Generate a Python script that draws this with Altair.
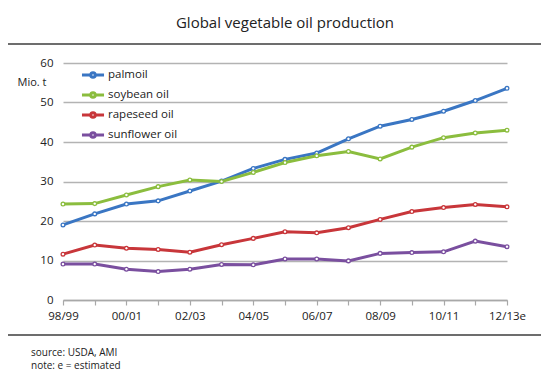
import altair as alt
import pandas as pd

seasons = ["98/99", "99/00", "00/01", "01/02", "02/03", "03/04", "04/05", "05/06",
           "06/07", "07/08", "08/09", "09/10", "10/11", "11/12", "12/13e"]
shown_labels = ["98/99", "00/01", "02/03", "04/05", "06/07", "08/09", "10/11", "12/13e"]

palmoil = [19.0, 21.8, 24.3, 25.1, 27.6, 30.1, 33.3, 35.6, 37.2, 40.8, 44.0, 45.7, 47.8, 50.5, 53.6]
soybean = [24.3, 24.4, 26.6, 28.7, 30.4, 30.0, 32.3, 34.8, 36.5, 37.6, 35.7, 38.7, 41.1, 42.3, 43.0]
rapeseed = [11.6, 13.9, 13.1, 12.8, 12.1, 14.0, 15.6, 17.3, 17.0, 18.3, 20.4, 22.4, 23.4, 24.2, 23.6]
sunflower = [9.1, 9.1, 7.8, 7.2, 7.8, 9.0, 8.9, 10.4, 10.4, 9.9, 11.8, 12.0, 12.2, 14.9, 13.5]

series_names = ["palmoil", "soybean oil", "rapeseed oil", "sunflower oil"]
series_colors = ["#3a76c3", "#8bbd3e", "#c8363a", "#7a4f9f"]
series_values = [palmoil, soybean, rapeseed, sunflower]

footer_lines = ["source: USDA, AMI", "note: e = estimated"]

rows = []
for name, vals in zip(series_names, series_values):
    for s, v in zip(seasons, vals):
        rows.append({"season": s, "value": v, "oil": name})
df = pd.DataFrame(rows)

FONT = "Open Sans"
label_list = ",".join("'" + l + "'" for l in shown_labels)
label_expr = f"indexof([{label_list}], datum.value) >= 0 ? datum.value : ''"

legend_symbol = ("M-1.16,0L-0.28,0M0.28,0L1.16,0"
                 "M-0.24,0A0.24,0.24 0 1,1 0.24,0A0.24,0.24 0 1,1 -0.24,0Z")

lines = alt.Chart(df).mark_line(
    strokeWidth=3,
    point=alt.OverlayMarkDef(filled=False, fill="white", fillOpacity=1, size=14,
                             strokeWidth=1.3),
).encode(
    x=alt.X("season:O", sort=seasons, title=None,
            scale=alt.Scale(type="point", padding=0),
            axis=alt.Axis(labelAngle=0, labelExpr=label_expr, tickSize=5,
                          tickColor="#a8a8a8", tickWidth=1.2, domainColor="#a8a8a8",
                          domainWidth=1.5, labelPadding=5, labelFontSize=11.5,
                          labelColor="#222222", labelFont=FONT, grid=False)),
    y=alt.Y("value:Q", scale=alt.Scale(domain=[0, 60]),
            axis=alt.Axis(values=[0, 10, 20, 30, 40, 50, 60], title="Mio. t",
                          titleAngle=0, titleAlign="left", titleBaseline="middle",
                          titleX=-46, titleY=19, titleFont=FONT, titleFontSize=11,
                          titleFontWeight="normal", titleColor="#222222",
                          domain=False, ticks=False, labelPadding=10,
                          labelFontSize=11.5, labelColor="#222222", labelFont=FONT,
                          gridColor="#b3b3b3", gridWidth=1.5)),
    color=alt.Color("oil:N", sort=series_names,
                    scale=alt.Scale(domain=series_names, range=series_colors),
                    legend=alt.Legend(title=None, orient="none", legendX=19, legendY=1,
                                      symbolType=legend_symbol, symbolSize=361,
                                      symbolStrokeWidth=3, symbolFillColor="white",
                                      labelFont=FONT, labelFontSize=11.5,
                                      labelColor="#222222", labelOffset=4,
                                      rowPadding=-1, padding=0)),
)

top_rule = alt.Chart().mark_rule(color="#3c3c3c", strokeWidth=1.5).encode(
    x=alt.value(-55), x2=alt.value(478), y=alt.value(-19))
bottom_rule = alt.Chart().mark_rule(color="#3c3c3c", strokeWidth=1.5).encode(
    x=alt.value(-55), x2=alt.value(478), y=alt.value(272))

footer_layers = []
for i, line in enumerate(footer_lines):
    footer_layers.append(
        alt.Chart(pd.DataFrame({"t": [line]})).mark_text(
            align="left", baseline="middle", font=FONT, fontSize=10, color="#222222",
        ).encode(x=alt.value(-32), y=alt.value(290 + 12.5 * i), text="t:N")
    )

chart = alt.layer(top_rule, bottom_rule, lines, *footer_layers).properties(
    width=444, height=237,
    title=alt.TitleParams("Global vegetable oil production", font=FONT, fontSize=15,
                          fontWeight="normal", color="#222222", offset=12),
    autosize=alt.AutoSizeParams(type="none"),
    padding={"left": 55, "top": 55, "right": 34, "bottom": 70},
).configure_view(stroke=None)

chart.save("out.html", embed_options={"renderer": "svg", "actions": False})
